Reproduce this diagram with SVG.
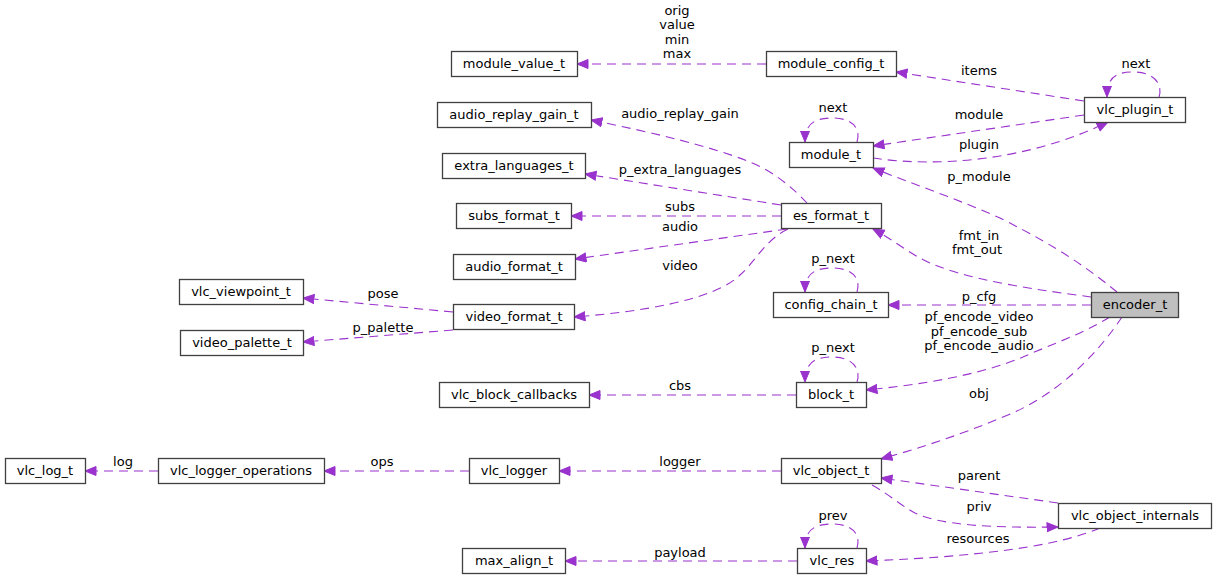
<svg xmlns="http://www.w3.org/2000/svg" width="1216" height="580" viewBox="0 0 1216 580">
<style>
.n rect{fill:#ffffff;stroke:#404040;stroke-width:1.3}
#encoder_t rect{fill:#bfbfbf}
text{font-family:"DejaVu Sans","Liberation Sans",sans-serif;font-size:13px;fill:#000;text-anchor:middle}
.e path{fill:none;stroke:#9a32cd;stroke-width:1.1;stroke-dasharray:9,6;marker-end:url(#arr)}
</style>
<defs>
<marker id="arr" markerUnits="userSpaceOnUse" markerWidth="13" markerHeight="11" refX="11.5" refY="5" orient="auto">
<path d="M0.5,0.5 L11.5,5 L0.5,9.5 z" fill="#9a32cd" stroke="#9a32cd" stroke-width="1"/>
</marker>
</defs>
<rect width="1216" height="580" fill="#ffffff"/>
<g id="connectors" class="e">
<path d="M766,64 L577,64"/>
<path d="M1084,101 L896,72"/>
<path d="M1159,97 C1163,85 1155,72 1133,72 C1114,72 1107,79 1107,97"/>
<path d="M1084,115 L873,146"/>
<path d="M873,158 C940,168 1030,160 1108,122"/>
<path d="M857,142 C861,130 854,118 832,118 C813,118 805,125 805,142"/>
<path d="M1117,292 C1090,270 1060,248 1000,218 C960,200 910,183 873,168"/>
<path d="M807,203 C795,190 775,172 750,162 C710,146 650,132 591,120"/>
<path d="M781,205 L585,174"/>
<path d="M781,216 L571,216"/>
<path d="M787,229 L575,259"/>
<path d="M788,229 C765,240 755,262 740,275 C715,300 640,312 574,317"/>
<path d="M1091,297 C1040,290 960,280 920,258 C905,250 890,238 873,229"/>
<path d="M857,292 C861,280 854,268 832,268 C813,268 805,275 805,292"/>
<path d="M1091,305 L888,305"/>
<path d="M453,312 L303,298"/>
<path d="M453,330 L303,342"/>
<path d="M796,395 L589,395"/>
<path d="M857,382 C861,370 854,357 832,357 C813,357 805,364 805,382"/>
<path d="M1110,317 C1080,335 1050,345 1023,357 C980,375 920,385 866,390"/>
<path d="M1122,317 C1100,350 1060,395 1003,417 C960,435 920,448 881,459"/>
<path d="M781,471 L559,471"/>
<path d="M469,471 L324,471"/>
<path d="M158,471 L85,471"/>
<path d="M1058,503 L881,478"/>
<path d="M872,485 C890,495 900,505 915,513 C940,525 990,528 1058,527"/>
<path d="M1100,528 C1060,545 1000,552 940,557 C910,559 890,560 866,561"/>
<path d="M857,548 C861,536 854,524 832,524 C813,524 805,531 805,548"/>
<path d="M797,561 L565,561"/>
</g>
<g id="edge-labels">
<text x="677" y="15">orig</text><text x="677" y="29">value</text><text x="677" y="44">min</text><text x="677" y="58">max</text>
<text x="979" y="75">items</text>
<text x="1136" y="68">next</text>
<text x="979" y="119">module</text>
<text x="979" y="149">plugin</text>
<text x="833" y="112">next</text>
<text x="979" y="181">p_module</text>
<text x="680" y="118">audio_replay_gain</text>
<text x="680" y="174">p_extra_languages</text>
<text x="680" y="211">subs</text>
<text x="680" y="231">audio</text>
<text x="680" y="270">video</text>
<text x="979" y="240">fmt_in</text><text x="977" y="254">fmt_out</text>
<text x="833" y="263">p_next</text>
<text x="979" y="301">p_cfg</text>
<text x="383" y="298">pose</text>
<text x="383" y="332">p_palette</text>
<text x="680" y="390">cbs</text>
<text x="833" y="352">p_next</text>
<text x="979" y="321">pf_encode_video</text><text x="979" y="336">pf_encode_sub</text><text x="979" y="350">pf_encode_audio</text>
<text x="979" y="398">obj</text>
<text x="680" y="466">logger</text>
<text x="382" y="466">ops</text>
<text x="123" y="466">log</text>
<text x="979" y="480">parent</text>
<text x="979" y="511">priv</text>
<text x="978" y="543">resources</text>
<text x="833" y="520">prev</text>
<text x="680" y="557">payload</text>
</g>
<g id="module_value_t" class="n"><rect x="451.5" y="51.5" width="126" height="25"/><text x="514" y="68">module_value_t</text></g>
<g id="module_config_t" class="n"><rect x="766.5" y="51.5" width="130" height="25"/><text x="831" y="68">module_config_t</text></g>
<g id="vlc_plugin_t" class="n"><rect x="1084.5" y="97.5" width="101" height="25"/><text x="1135" y="114">vlc_plugin_t</text></g>
<g id="audio_replay_gain_t" class="n"><rect x="437.5" y="102.5" width="154" height="25"/><text x="514" y="119">audio_replay_gain_t</text></g>
<g id="module_t" class="n"><rect x="789.5" y="142.5" width="84" height="25"/><text x="831" y="159">module_t</text></g>
<g id="extra_languages_t" class="n"><rect x="442.5" y="153.5" width="143" height="25"/><text x="514" y="170">extra_languages_t</text></g>
<g id="subs_format_t" class="n"><rect x="456.5" y="203.5" width="115" height="25"/><text x="514" y="220">subs_format_t</text></g>
<g id="es_format_t" class="n"><rect x="781.5" y="203.5" width="100" height="25"/><text x="831" y="220">es_format_t</text></g>
<g id="audio_format_t" class="n"><rect x="453.5" y="254.5" width="122" height="25"/><text x="514" y="271">audio_format_t</text></g>
<g id="vlc_viewpoint_t" class="n"><rect x="179.5" y="279.5" width="124" height="25"/><text x="241" y="296">vlc_viewpoint_t</text></g>
<g id="config_chain_t" class="n"><rect x="773.5" y="292.5" width="115" height="25"/><text x="831" y="309">config_chain_t</text></g>
<g id="encoder_t" class="n"><rect x="1091.5" y="292.5" width="87" height="25"/><text x="1135" y="309">encoder_t</text></g>
<g id="video_format_t" class="n"><rect x="453.5" y="304.5" width="121" height="25"/><text x="514" y="321">video_format_t</text></g>
<g id="video_palette_t" class="n"><rect x="180.5" y="330.5" width="123" height="25"/><text x="242" y="347">video_palette_t</text></g>
<g id="vlc_block_callbacks" class="n"><rect x="439.5" y="382.5" width="150" height="25"/><text x="514" y="399">vlc_block_callbacks</text></g>
<g id="block_t" class="n"><rect x="796.5" y="382.5" width="70" height="25"/><text x="831" y="399">block_t</text></g>
<g id="vlc_log_t" class="n"><rect x="5.5" y="458.5" width="80" height="25"/><text x="45" y="475">vlc_log_t</text></g>
<g id="vlc_logger_operations" class="n"><rect x="158.5" y="458.5" width="166" height="25"/><text x="241" y="475">vlc_logger_operations</text></g>
<g id="vlc_logger" class="n"><rect x="469.5" y="458.5" width="90" height="25"/><text x="514" y="475">vlc_logger</text></g>
<g id="vlc_object_t" class="n"><rect x="781.5" y="458.5" width="100" height="25"/><text x="831" y="475">vlc_object_t</text></g>
<g id="vlc_object_internals" class="n"><rect x="1058.5" y="503.5" width="153" height="25"/><text x="1135" y="520">vlc_object_internals</text></g>
<g id="max_align_t" class="n"><rect x="462.5" y="548.5" width="103" height="25"/><text x="514" y="565">max_align_t</text></g>
<g id="vlc_res" class="n"><rect x="797.5" y="548.5" width="69" height="25"/><text x="832" y="565">vlc_res</text></g>
</svg>
